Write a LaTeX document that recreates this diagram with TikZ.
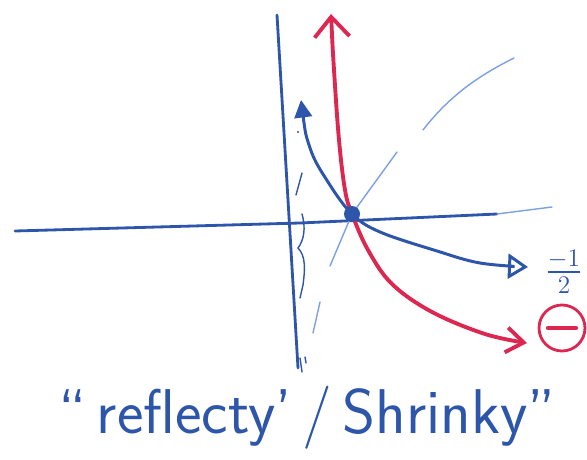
\documentclass[tikz,border=0pt]{standalone}
\usepackage{amsmath}
\usepackage{tikz}
\usetikzlibrary{arrows.meta}

\definecolor{penblue}{RGB}{45,85,170}
\definecolor{penred}{RGB}{220,40,80}
\definecolor{paleblue}{RGB}{125,160,225}

\begin{document}
\begin{tikzpicture}[
  x=0.02cm, y=-0.02cm,
  axis/.style={penblue, line width=1.6pt, line cap=round},
  curveblue/.style={penblue, line width=1.7pt, line cap=round},
  curvered/.style={penred, line width=2.2pt, line cap=round},
  guide/.style={paleblue, line width=0.8pt, line cap=round},
  scribble/.style={penblue, line width=0.8pt, line cap=round}
]
  \useasboundingbox (0,0) rectangle (587,459);

  % axes
  \draw[axis] (15,231) -- (300,223) -- (497,214);
  \draw[guide] (497,214) -- (552,207);
  \draw[axis] (277,15) -- (288,200) -- (298,368);

  % the line y = x, in pieces
  \draw[guide] (330,266) -- (352,214) -- (397,152);
  \draw[guide] (423,130) .. controls (450,95) and (480,75) .. (514,58);
  \draw[guide] (320,302) -- (313,333);

  % marks by the vertical axis
  \draw[scribble] (302,173) -- (296,195);
  \fill[penblue] (298,132) circle (1.2);
  \draw[scribble] (302,214) .. controls (306,228) and (304,240) .. (298,248)
    .. controls (306,256) and (305,270) .. (303,285) -- (300,298);
  \draw[scribble] (300,358) -- (302,372);
  \draw[scribble] (305,357) -- (306,363);

  % the two curves
  \draw[curvered, {Straight Barb[length=4mm, width=7mm]}-{Straight Barb[length=3.5mm, width=5mm]}]
    plot[smooth, tension=0.6] coordinates {(331,14) (334,70) (339,140) (345,190)
      (352,214) (368,250) (392,284) (432,312) (485,334) (527,343)};
  \draw[curveblue, {Triangle[length=3.5mm, width=3.5mm]}-{Triangle[open, length=4mm, width=5mm]}]
    plot[smooth, tension=0.6] coordinates {(301,100) (310,148) (328,182)
      (352,214) (380,232) (437,251) (480,263) (528,267)};

  \node[circle, fill=penblue, inner sep=0pt, minimum size=3.2mm] (meet) at (352,214) {};

  % labels
  \node[text=penblue, font=\fontsize{20}{22}\selectfont] (half) at (564,272) {$\frac{-1}{2}$};
  \node[circle, draw=penred, line width=1.6pt, minimum size=9.2mm, inner sep=0pt] (minus) at (562,328) {};
  \draw[penred, line width=2.4pt, line cap=round] (minus.center) +(-14,0) -- +(14,0);
  \node[text=penblue, font=\fontsize{36}{40}\selectfont\sffamily] (caption) at (307,418)
    {``\,reflecty'\,/\,Shrinky''};
\end{tikzpicture}
\end{document}
